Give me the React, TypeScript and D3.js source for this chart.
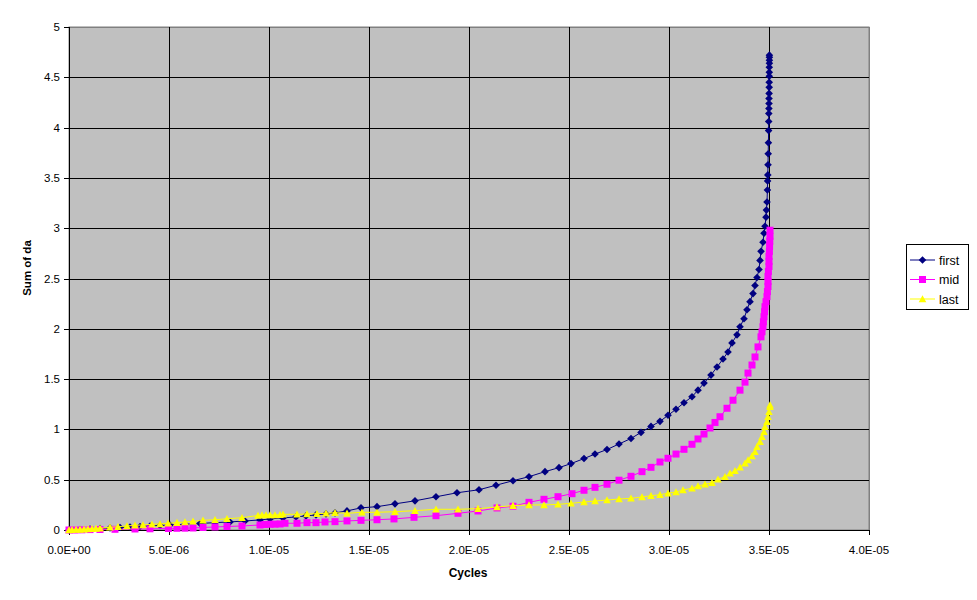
import React from "react";
import * as d3 from "d3";

// x values are in units of 1e-6 cycles
const firstX = [0,0.55,1.05,1.55,2.05,2.55,3.05,3.55,4.05,4.55,5.05,5.8,6.55,7.3,8.05,8.8,9.55,10.05,10.7,11.35,11.85,12.35,12.85,13.3,13.9,14.6,15.4,16.3,17.3,18.35,19.4,20.5,21.35,22.2,23.0,23.8,24.5,25.1,25.75,26.3,26.9,27.5,28.1,28.6,29.1,29.55,29.95,30.35,30.75,31.15,31.45,31.75,32.1,32.4,32.7,32.95,33.15,33.4,33.55,33.75,33.9,34.05,34.2,34.3,34.4,34.5,34.55,34.6,34.7,34.75,34.8,34.85,34.87,34.9,34.92,34.93,34.94,34.95,34.96,34.97,34.98,34.985,34.99,34.995,35.0,35.0,35.005,35.01,35.01,35.015,35.015,35.015,35.02,35.02,35.02,35.02];
const firstY = [0,0.005,0.01,0.015,0.02,0.025,0.03,0.035,0.04,0.045,0.05,0.057,0.065,0.073,0.08,0.09,0.10,0.11,0.12,0.13,0.14,0.15,0.16,0.17,0.19,0.22,0.232,0.26,0.29,0.33,0.37,0.40,0.445,0.49,0.53,0.58,0.62,0.66,0.71,0.755,0.80,0.855,0.91,0.97,1.03,1.08,1.14,1.20,1.265,1.325,1.39,1.46,1.54,1.62,1.70,1.77,1.86,1.94,2.02,2.10,2.19,2.27,2.35,2.43,2.51,2.59,2.68,2.77,2.86,2.95,3.02,3.11,3.18,3.26,3.38,3.47,3.53,3.63,3.74,3.85,3.97,4.06,4.14,4.19,4.24,4.29,4.34,4.40,4.45,4.51,4.55,4.60,4.64,4.67,4.70,4.72];

const midX = [0,0.3,0.65,1.05,1.55,2.3,3.3,4.05,4.97,5.4,5.8,6.2,6.7,7.3,7.9,8.65,9.55,9.8,10.05,10.3,10.55,10.8,11.4,11.9,12.35,12.8,13.3,13.9,14.6,15.4,16.25,17.25,18.35,19.45,20.45,21.4,22.2,23.0,23.75,24.45,25.15,25.75,26.3,26.9,27.5,28.1,28.65,29.1,29.55,29.95,30.35,30.75,31.15,31.45,31.75,32.05,32.3,32.55,32.9,33.2,33.55,33.8,33.95,34.15,34.3,34.45,34.6,34.65,34.7,34.72,34.75,34.78,34.8,34.85,34.9,34.92,34.95,34.95,34.95,34.97,35.0,35.0,35.0,35.02,35.03,35.04,35.05,35.05];
const midY = [0,0,0.002,0.004,0.005,0.007,0.01,0.012,0.015,0.017,0.018,0.02,0.025,0.03,0.035,0.04,0.05,0.055,0.057,0.058,0.06,0.067,0.067,0.073,0.073,0.08,0.083,0.09,0.096,0.102,0.11,0.126,0.142,0.166,0.189,0.219,0.236,0.275,0.305,0.331,0.361,0.395,0.424,0.455,0.495,0.534,0.58,0.623,0.676,0.713,0.755,0.802,0.852,0.905,0.954,1.014,1.069,1.126,1.21,1.29,1.39,1.47,1.56,1.64,1.72,1.82,1.92,1.97,2.02,2.07,2.12,2.17,2.22,2.27,2.32,2.37,2.42,2.47,2.52,2.57,2.62,2.67,2.72,2.77,2.82,2.87,2.92,2.98];

const lastX = [0,0.15,0.35,0.55,0.75,0.95,1.15,1.35,1.55,2.05,2.45,2.9,3.3,3.7,4.15,4.55,4.95,5.4,5.8,6.2,6.7,7.3,7.9,8.65,9.45,9.65,9.85,10.05,10.3,10.55,10.7,11.4,11.9,12.4,12.85,13.3,13.9,14.65,15.4,16.3,17.3,18.35,19.45,20.45,21.4,22.2,23.0,23.75,24.45,25.1,25.75,26.3,26.9,27.5,28.1,28.65,29.1,29.55,29.95,30.35,30.7,31.15,31.45,31.8,32.15,32.45,32.8,33.05,33.3,33.55,33.8,33.95,34.15,34.3,34.4,34.55,34.65,34.75,34.8,34.9,34.95,35.0,35.05,35.05];
const lastY = [0,0.002,0.004,0.006,0.008,0.01,0.012,0.014,0.017,0.027,0.033,0.04,0.047,0.05,0.057,0.06,0.067,0.073,0.08,0.086,0.096,0.102,0.112,0.122,0.144,0.149,0.149,0.149,0.149,0.151,0.156,0.156,0.159,0.162,0.166,0.172,0.166,0.176,0.176,0.182,0.192,0.206,0.206,0.212,0.229,0.242,0.249,0.249,0.255,0.265,0.278,0.288,0.298,0.308,0.315,0.328,0.341,0.351,0.365,0.378,0.398,0.415,0.437,0.454,0.47,0.504,0.53,0.564,0.589,0.623,0.663,0.696,0.736,0.778,0.828,0.878,0.927,0.977,1.027,1.077,1.126,1.176,1.226,1.243];

const seriesNames = ["first", "mid", "last"];
const xTicks = [0, 5, 10, 15, 20, 25, 30, 35, 40];
const yTicks = [0, 0.5, 1, 1.5, 2, 2.5, 3, 3.5, 4, 4.5, 5];
const xTitle = "Cycles";
const yTitle = "Sum of da";

const FONT = "'Liberation Sans', Arial, sans-serif";

function fmtExp(v: number): string {
  const s = (v * 1e-6).toExponential(1);
  const [m, e] = s.split("e");
  const sign = e.startsWith("-") ? "-" : "+";
  const digits = e.replace(/[+-]/, "").padStart(2, "0");
  return `${m}E${sign}${digits}`;
}

function markerPath(kind: string, cx: number, cy: number): string {
  if (kind === "diamond") {
    const r = 3.8;
    return `M${cx},${cy - r}L${cx + r},${cy}L${cx},${cy + r}L${cx - r},${cy}Z`;
  }
  if (kind === "square") {
    const h = 3.5;
    return `M${cx - h},${cy - h}H${cx + h}V${cy + h}H${cx - h}Z`;
  }
  const h = 3.8;
  return `M${cx},${cy - h}L${cx + h},${cy + h * 0.85}L${cx - h},${cy + h * 0.85}Z`;
}

export default function App() {
  const left = 69, right = 869, top = 27, bottom = 530;
  const x = d3.scaleLinear().domain([0, 40]).range([left, right]);
  const y = d3.scaleLinear().domain([0, 5]).range([bottom, top]);

  const series = [
    { name: seriesNames[0], xs: firstX, ys: firstY, color: "#000080", marker: "diamond" },
    { name: seriesNames[1], xs: midX, ys: midY, color: "#FF00FF", marker: "square" },
    { name: seriesNames[2], xs: lastX, ys: lastY, color: "#FFFF00", marker: "triangle" },
  ].map((s) => {
    const n = Math.min(s.xs.length, s.ys.length);
    const pts: [number, number][] = [];
    for (let i = 0; i < n; i++) pts.push([s.xs[i], s.ys[i]]);
    return { ...s, pts };
  });

  const line = d3
    .line<[number, number]>()
    .x((d) => x(d[0]))
    .y((d) => y(d[1]));

  const legX = 906, legY = 244, legW = 62, legH = 65;

  return (
    <svg
      width={977}
      height={600}
      style={{ position: "absolute", left: 0, top: 0, background: "#fff" }}
      fontFamily={FONT}
    >
      <rect x={0} y={0} width={977} height={600} fill="#fff" />
      <rect x={left} y={top} width={right - left} height={bottom - top} fill="#C0C0C0" stroke="#808080" strokeWidth={1} />
      {/* grid */}
      {yTicks.map((t) => (
        <line key={"gy" + t} x1={left - 5} x2={right} y1={Math.round(y(t)) + 0.5} y2={Math.round(y(t)) + 0.5} stroke={t === 5 ? "#808080" : "#000"} strokeWidth={1} />
      ))}
      <line x1={left - 5} x2={left} y1={Math.round(y(5)) + 0.5} y2={Math.round(y(5)) + 0.5} stroke="#000" />
      {xTicks.map((t) => (
        <line key={"gx" + t} x1={Math.round(x(t)) + 0.5} x2={Math.round(x(t)) + 0.5} y1={top} y2={bottom + 5} stroke={t === 40 ? "#808080" : "#000"} strokeWidth={1} />
      ))}
      <line x1={right + 0.5} x2={right + 0.5} y1={top} y2={bottom} stroke="#808080" />
      <line x1={left + 0.5} x2={left + 0.5} y1={top} y2={bottom + 5} stroke="#000" />
      <line x1={left - 5} x2={right} y1={bottom + 0.5} y2={bottom + 0.5} stroke="#000" />
      <line x1={right + 0.5} x2={right + 0.5} y1={bottom} y2={bottom + 5} stroke="#000" />

      {/* series */}
      {series.map((s) => (
        <g key={s.name}>
          <path d={line(s.pts) || ""} fill="none" stroke={s.color} strokeWidth={1} />
          {s.pts.map((p, i) => (
            <path key={i} d={markerPath(s.marker, x(p[0]), y(p[1]))} fill={s.color} />
          ))}
        </g>
      ))}

      {/* tick labels */}
      {yTicks.map((t) => (
        <text key={"ly" + t} x={60} y={y(t) + 4} textAnchor="end" fontSize={11.5} fill="#000">
          {String(t)}
        </text>
      ))}
      {xTicks.map((t) => (
        <text key={"lx" + t} x={x(t)} y={554} textAnchor="middle" fontSize={11.5} fill="#000">
          {fmtExp(t)}
        </text>
      ))}

      {/* axis titles */}
      <text x={468} y={577} textAnchor="middle" fontSize={12} fontWeight="bold">
        {xTitle}
      </text>
      <text transform={`translate(31,${268}) rotate(-90)`} textAnchor="middle" fontSize={11.5} fontWeight="bold">
        {yTitle}
      </text>

      {/* legend */}
      <rect x={legX + 0.5} y={legY + 0.5} width={legW} height={legH} fill="#fff" stroke="#000" />
      {series.map((s, i) => {
        const cy = legY + 16 + i * 19.5;
        return (
          <g key={"leg" + s.name}>
            <line x1={legX + 4} x2={legX + 29} y1={cy} y2={cy} stroke={s.color} strokeWidth={1} />
            <path d={markerPath(s.marker, legX + 16.5, cy)} fill={s.color} />
            <text x={legX + 33} y={cy + 4.5} fontSize={12.5}>
              {s.name}
            </text>
          </g>
        );
      })}
    </svg>
  );
}
